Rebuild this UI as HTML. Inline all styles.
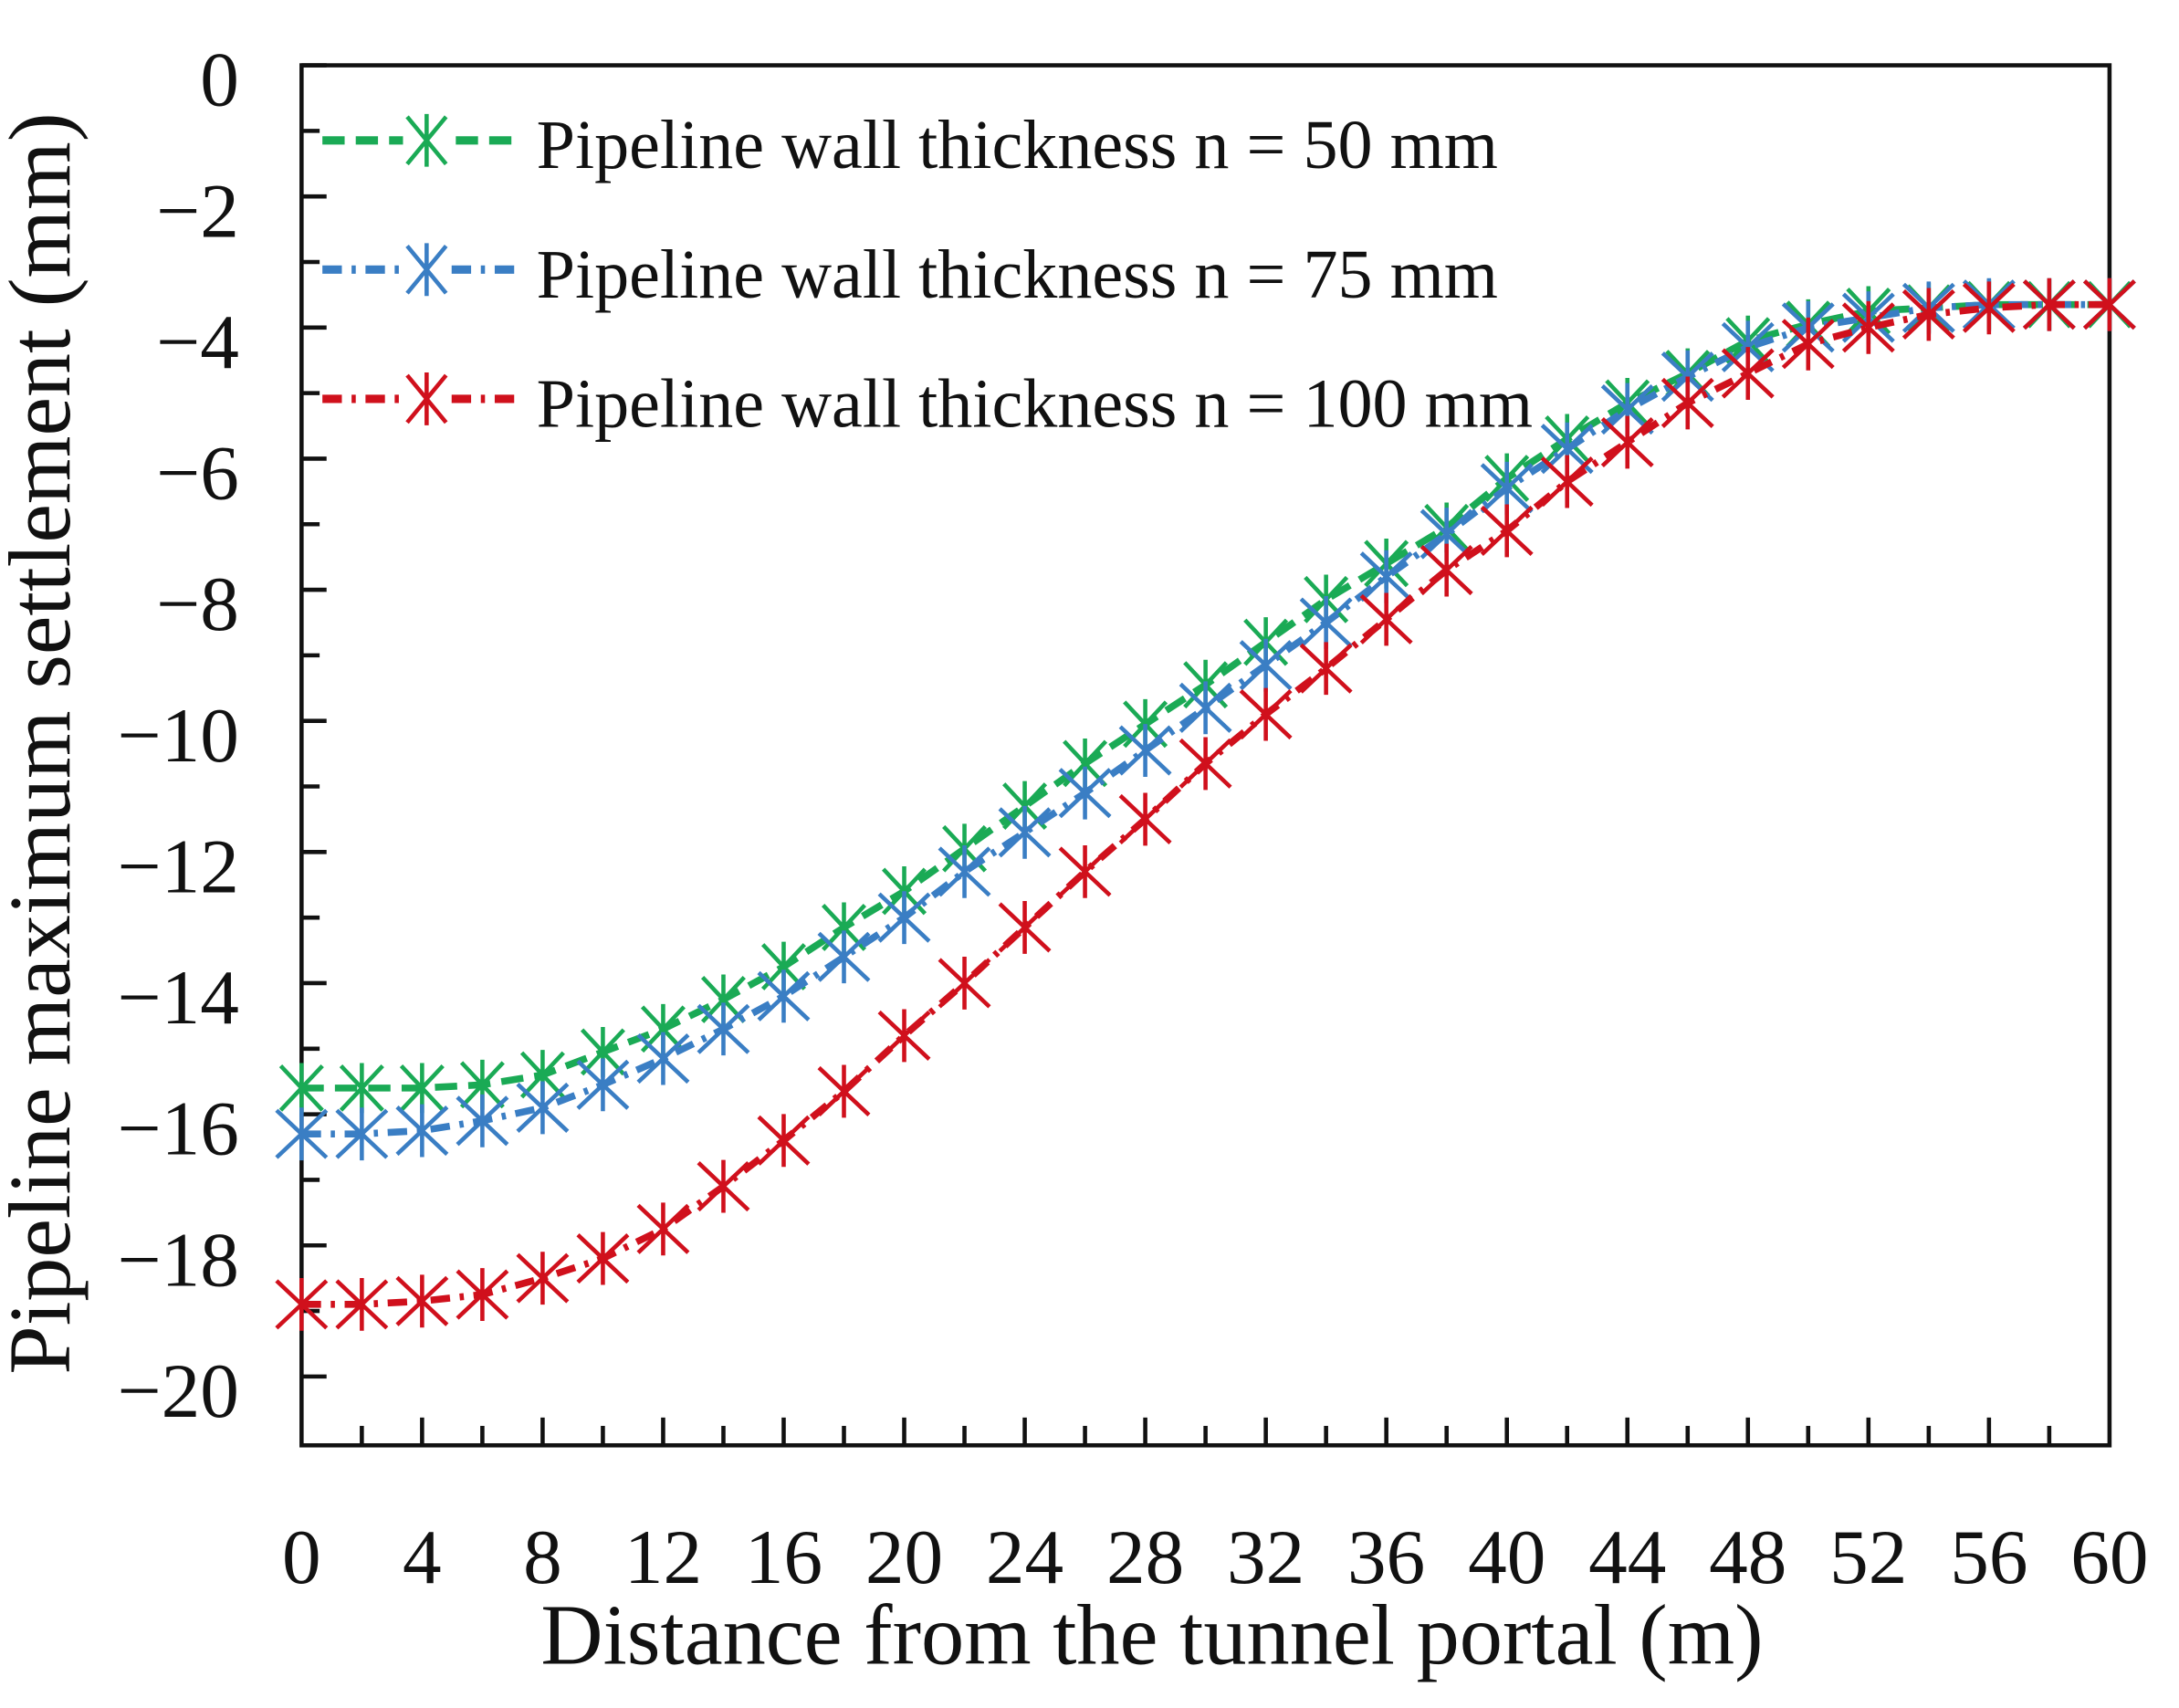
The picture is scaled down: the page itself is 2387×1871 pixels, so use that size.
<!DOCTYPE html>
<html><head><meta charset="utf-8"><style>
html,body{margin:0;padding:0;background:#fff;}
svg{display:block;}
text{font-family:"Liberation Serif",serif;fill:#111;}
</style></head><body>
<svg width="2387" height="1871" viewBox="0 0 1568 1229" preserveAspectRatio="none" xmlns="http://www.w3.org/2000/svg">
<rect width="1568" height="1229" fill="#fff"/>
<g id="axes" stroke="#111" stroke-width="3" fill="none">
<rect x="217" y="47" width="1301" height="993"/>
</g>
<g id="ticks" stroke="#111" stroke-width="3"></g>
<g id="labels"></g>
<g id="series"></g>
<g id="legend"></g>
<text x="50" y="535" font-size="63" text-anchor="middle" transform="rotate(-90 50 535)">Pipeline maximum settlement (mm)</text>
<text x="829" y="1197" font-size="62" text-anchor="middle">Distance from the tunnel portal (m)</text>
<script>
const NS="http://www.w3.org/2000/svg";
const L=217,R=1518,T=47,B=1040;
const X=v=>L+v*(R-L)/60, Y=v=>T-v*(993/21.05);
function el(p,tag,a,txt){const e=document.createElementNS(NS,tag);for(const k in a)e.setAttribute(k,a[k]);if(txt!==undefined)e.textContent=txt;document.getElementById(p).appendChild(e);return e;}
for(let v=0;v>=-20;v--){const y=Y(v);el('ticks','line',{x1:L,y1:y,x2:L+(v%2==0?18:13),y2:y});
 if(v%2==0)el('labels','text',{x:172,y:y+29,'font-size':56,'text-anchor':'end'},v==0?'0':'\u2212'+(-v));}
for(let v=2;v<60;v+=2){const x=X(v);el('ticks','line',{x1:x,y1:B,x2:x,y2:B-(v%4==0?20:14)});}
for(let v=0;v<=60;v+=4)el('labels','text',{x:X(v),y:1139,'font-size':56,'text-anchor':'middle'},String(v));
const g=[-15.6,-15.6,-15.6,-15.55,-15.4,-15.05,-14.7,-14.25,-13.75,-13.15,-12.6,-11.95,-11.3,-10.65,-10.05,-9.45,-8.8,-8.15,-7.6,-7.05,-6.3,-5.7,-5.15,-4.7,-4.2,-3.95,-3.75,-3.7,-3.65,-3.65,-3.65];
const b=[-16.3,-16.3,-16.25,-16.1,-15.9,-15.55,-15.15,-14.7,-14.2,-13.6,-13.0,-12.3,-11.7,-11.1,-10.45,-9.8,-9.15,-8.5,-7.8,-7.15,-6.45,-5.85,-5.25,-4.75,-4.3,-4.0,-3.85,-3.7,-3.65,-3.65,-3.65];
const r=[-18.9,-18.9,-18.85,-18.75,-18.5,-18.2,-17.75,-17.1,-16.4,-15.65,-14.8,-14.0,-13.15,-12.3,-11.5,-10.65,-9.9,-9.2,-8.45,-7.7,-7.1,-6.35,-5.75,-5.15,-4.7,-4.25,-4.0,-3.8,-3.7,-3.65,-3.65];
function star(p,x,y,c,w,h){el(p,'path',{d:`M${x-w} ${y-h}L${x+w} ${y+h}M${x-w} ${y+h}L${x+w} ${y-h}M${x} ${y-h-2}L${x} ${y+h+2}`,stroke:c,'stroke-width':3,fill:'none'});}
function series(d,c,dash,w,h){const pts=d.map((v,i)=>X(i*2)+','+Y(v)).join(' ');
 el('series','polyline',{points:pts,fill:'none',stroke:c,'stroke-width':5,'stroke-dasharray':dash});
 d.forEach((v,i)=>star('series',X(i*2),Y(v),c,w,h));}
series(g,'#1aaa55','16 8',15,16);
series(b,'#3a7ec4','14 7 3 7',18,17);
series(r,'#d0101c','14 7 3 7',18,17);
const leg=[[101,'#1aaa55','Pipeline wall thickness n = 50 mm','16 8'],[194,'#3a7ec4','Pipeline wall thickness n = 75 mm','14 7 3 7'],[287,'#d0101c','Pipeline wall thickness n = 100 mm','14 7 3 7']];
leg.forEach(([y,c,t,d])=>{el('legend','line',{x1:232,y1:y,x2:376,y2:y,stroke:c,'stroke-width':6,'stroke-dasharray':d});
 el('legend','rect',{x:290,y:y-22,width:34,height:44,fill:'#fff'});
 star('legend',307,y,c,14,17);el('legend','text',{x:386,y:y+20,'font-size':50},t);});
</script>
</svg>
</body></html>
